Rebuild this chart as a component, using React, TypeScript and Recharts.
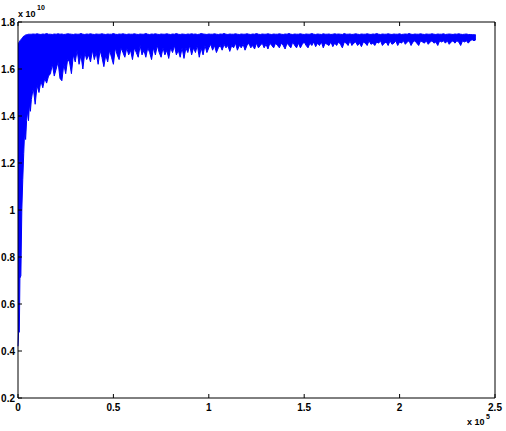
import { Area, ComposedChart, XAxis, YAxis } from "recharts";

// signal, y in units of 1e10, x raw sample index
const earlyX = [0, 300, 700, 1000, 1500, 2000, 2500, 3000, 3500, 4000, 4500, 5000, 5500, 6000, 6500];
const earlyLow = [0.42, 0.48, 0.48, 0.71, 0.72, 1.0, 1.13, 1.24, 1.34, 1.3, 1.38, 1.42, 1.38, 1.45, 1.42];
const earlyHigh = [1.71, 1.71, 1.715, 1.72, 1.725, 1.73, 1.735, 1.74, 1.742, 1.745, 1.746, 1.747, 1.748, 1.748, 1.748];

const bandStart = 7000;
const bandStep = 1000;
const bandLow = [
  1.47, 1.52, 1.45, 1.53, 1.5, 1.55, 1.52, 1.56, 1.54, 1.57,
  1.58, 1.62, 1.57, 1.6, 1.63, 1.56, 1.55, 1.62, 1.58, 1.64,
  1.63, 1.58, 1.66, 1.63, 1.68, 1.62, 1.66, 1.6, 1.67, 1.64,
  1.66, 1.63, 1.68, 1.64, 1.67, 1.62, 1.68, 1.65, 1.61, 1.66,
  1.63, 1.68, 1.65, 1.62, 1.69, 1.66, 1.64, 1.69, 1.67, 1.65,
  1.69, 1.66, 1.68, 1.64, 1.69, 1.67, 1.65, 1.7, 1.66, 1.68,
  1.65, 1.69, 1.67, 1.64, 1.69, 1.66, 1.7, 1.67, 1.65, 1.69,
  1.66, 1.68, 1.645, 1.69, 1.67, 1.7, 1.66, 1.68, 1.65, 1.69,
  1.645, 1.69, 1.67, 1.7, 1.66, 1.69, 1.67, 1.7, 1.65, 1.69,
  1.66, 1.7, 1.67, 1.69, 1.705, 1.68, 1.7, 1.67, 1.69, 1.7,
  1.68, 1.705, 1.69, 1.7, 1.675, 1.7, 1.69, 1.71, 1.68, 1.7,
  1.69, 1.705, 1.68, 1.7, 1.71, 1.69, 1.7, 1.685, 1.71, 1.69,
  1.7, 1.71, 1.69, 1.705, 1.685, 1.71, 1.7, 1.69, 1.71, 1.7,
  1.69, 1.71, 1.7, 1.685, 1.71, 1.7, 1.69, 1.715, 1.7, 1.69,
  1.71, 1.69, 1.705, 1.715, 1.7, 1.69, 1.71, 1.7, 1.715, 1.695,
  1.71, 1.7, 1.715, 1.69, 1.71, 1.705, 1.7, 1.715, 1.695, 1.71,
  1.7, 1.715, 1.705, 1.69, 1.715, 1.71, 1.7, 1.72, 1.7, 1.71,
  1.715, 1.7, 1.71, 1.695, 1.715, 1.71, 1.7, 1.72, 1.705, 1.71,
  1.7, 1.715, 1.71, 1.72, 1.7, 1.71, 1.715, 1.7, 1.72, 1.705,
  1.71, 1.72, 1.7, 1.715, 1.71, 1.72, 1.705, 1.715, 1.72, 1.7,
  1.715, 1.72, 1.71, 1.7, 1.72, 1.715, 1.71, 1.72, 1.705, 1.715,
  1.72, 1.71, 1.715, 1.7, 1.72, 1.715, 1.72, 1.71, 1.72, 1.705,
  1.715, 1.72, 1.71, 1.72, 1.715, 1.7, 1.72, 1.715, 1.72, 1.71,
  1.72, 1.725, 1.72, 1.725,
];
const bandHigh = [
  1.748, 1.749, 1.748, 1.75, 1.748, 1.747, 1.749, 1.748, 1.751, 1.748,
  1.748, 1.747, 1.749, 1.748, 1.75, 1.748, 1.749, 1.747, 1.748, 1.75,
  1.749, 1.748, 1.747, 1.749, 1.748, 1.748, 1.751, 1.748, 1.747, 1.749,
  1.748, 1.75, 1.748, 1.747, 1.749, 1.748, 1.748, 1.75, 1.748, 1.747,
  1.749, 1.748, 1.748, 1.751, 1.748, 1.747, 1.749, 1.748, 1.75, 1.748,
  1.747, 1.749, 1.748, 1.748, 1.75, 1.748, 1.747, 1.749, 1.748, 1.748,
  1.751, 1.748, 1.747, 1.749, 1.748, 1.75, 1.748, 1.747, 1.749, 1.748,
  1.748, 1.75, 1.748, 1.747, 1.749, 1.748, 1.751, 1.748, 1.747, 1.749,
  1.748, 1.747, 1.749, 1.748, 1.75, 1.748, 1.749, 1.747, 1.748, 1.751,
  1.749, 1.748, 1.747, 1.749, 1.748, 1.748, 1.75, 1.748, 1.747, 1.749,
  1.748, 1.751, 1.748, 1.747, 1.749, 1.748, 1.748, 1.75, 1.748, 1.747,
  1.749, 1.748, 1.748, 1.75, 1.748, 1.747, 1.749, 1.748, 1.751, 1.748,
  1.747, 1.749, 1.748, 1.748, 1.75, 1.748, 1.747, 1.749, 1.748, 1.748,
  1.75, 1.748, 1.747, 1.749, 1.748, 1.751, 1.748, 1.747, 1.749, 1.748,
  1.748, 1.75, 1.748, 1.747, 1.749, 1.748, 1.748, 1.751, 1.748, 1.747,
  1.749, 1.748, 1.747, 1.75, 1.748, 1.748, 1.749, 1.747, 1.748, 1.75,
  1.748, 1.749, 1.748, 1.747, 1.751, 1.748, 1.748, 1.749, 1.747, 1.748,
  1.75, 1.748, 1.747, 1.749, 1.748, 1.748, 1.75, 1.748, 1.747, 1.749,
  1.748, 1.751, 1.748, 1.747, 1.749, 1.748, 1.748, 1.75, 1.748, 1.747,
  1.749, 1.748, 1.748, 1.75, 1.747, 1.748, 1.749, 1.748, 1.751, 1.748,
  1.747, 1.749, 1.748, 1.748, 1.75, 1.748, 1.747, 1.749, 1.748, 1.748,
  1.75, 1.748, 1.747, 1.749, 1.748, 1.748, 1.75, 1.747, 1.748, 1.749,
  1.748, 1.747, 1.749, 1.748, 1.75, 1.748, 1.747, 1.748, 1.749, 1.747,
  1.747, 1.746, 1.746, 1.745,
];

const xTicks = [0, 50000, 100000, 150000, 200000, 250000];
const xTickLabels = ["0", "0.5", "1", "1.5", "2", "2.5"];
const yTicks = [0.2, 0.4, 0.6, 0.8, 1, 1.2, 1.4, 1.6, 1.8];
const yTickLabels = ["0.2", "0.4", "0.6", "0.8", "1", "1.2", "1.4", "1.6", "1.8"];

const data = [
  ...earlyX.map((x, i) => ({ x, band: [earlyLow[i], earlyHigh[i]] })),
  ...bandLow.map((lo, i) => ({ x: bandStart + i * bandStep, band: [lo, bandHigh[i]] })),
];

const W = 506;
const H = 431;
const LEFT = 18;
const RIGHT = 495;
const TOP = 22;
const BOTTOM = 398;
const TICK = 4;
const FONT = "Arial, 'Liberation Sans', Helvetica, sans-serif";

const labelStyle = { fontFamily: FONT, fontSize: 10, fontWeight: 700, fill: "#000" };

function LeftTick(props: any) {
  const { y, payload } = props;
  const idx = yTicks.indexOf(payload.value);
  return (
    <g>
      <line x1={LEFT} x2={LEFT + TICK} y1={y} y2={y} stroke="#000" />
      <text x={LEFT - 3} y={y} dy={4} textAnchor="end" {...labelStyle}>
        {yTickLabels[idx]}
      </text>
    </g>
  );
}

function RightTick(props: any) {
  const { y } = props;
  return <line x1={RIGHT - TICK} x2={RIGHT} y1={y} y2={y} stroke="#000" />;
}

function BottomTick(props: any) {
  const { x, payload } = props;
  const idx = xTicks.indexOf(payload.value);
  return (
    <g>
      <line x1={x} x2={x} y1={BOTTOM - TICK} y2={BOTTOM} stroke="#000" />
      <text x={x} y={BOTTOM + 13} textAnchor="middle" {...labelStyle}>
        {xTickLabels[idx]}
      </text>
    </g>
  );
}

function TopTick(props: any) {
  const { x } = props;
  return <line x1={x} x2={x} y1={TOP} y2={TOP + TICK} stroke="#000" />;
}

const expStyle: any = {
  position: "absolute",
  fontFamily: FONT,
  fontSize: 9,
  fontWeight: 700,
  color: "#000",
  lineHeight: "9px",
  whiteSpace: "nowrap",
};

export default function App() {
  return (
    <div style={{ position: "absolute", left: 0, top: 0, width: W, height: H, background: "#fff" }}>
      <ComposedChart
        width={W}
        height={H}
        data={data}
        margin={{ top: TOP - 1, right: W - RIGHT - 1, bottom: H - BOTTOM - 1, left: LEFT - 1 }}
      >
        <XAxis
          dataKey="x"
          type="number"
          domain={[0, 250000]}
          ticks={xTicks}
          height={1}
          tickSize={0}
          tick={<BottomTick />}
          axisLine={{ stroke: "#000" }}
          interval={0}
        />
        <XAxis
          xAxisId="top"
          dataKey="x"
          type="number"
          orientation="top"
          domain={[0, 250000]}
          ticks={xTicks}
          height={1}
          tickSize={0}
          tick={<TopTick />}
          axisLine={{ stroke: "#000" }}
          interval={0}
        />
        <YAxis
          yAxisId="l"
          type="number"
          domain={[0.2, 1.8]}
          ticks={yTicks}
          width={1}
          tickSize={0}
          tick={<LeftTick />}
          axisLine={{ stroke: "#000" }}
          interval={0}
        />
        <YAxis
          yAxisId="r"
          type="number"
          orientation="right"
          domain={[0.2, 1.8]}
          ticks={yTicks}
          width={1}
          tickSize={0}
          tick={<RightTick />}
          axisLine={{ stroke: "#000" }}
          interval={0}
        />
        <Area
          yAxisId="l"
          type="linear"
          dataKey="band"
          stroke="#0000ff"
          strokeWidth={1}
          fill="#0000ff"
          fillOpacity={1}
          dot={false}
          activeDot={false}
          isAnimationActive={false}
        />
      </ComposedChart>
      <span style={{ ...expStyle, left: 18, top: 10 }}>x 10</span>
      <span style={{ ...expStyle, left: 37, top: 4, fontSize: 7, lineHeight: "7px" }}>10</span>
      <span style={{ ...expStyle, left: 467, top: 418 }}>x 10</span>
      <span style={{ ...expStyle, left: 486, top: 413, fontSize: 7, lineHeight: "7px" }}>5</span>
    </div>
  );
}
